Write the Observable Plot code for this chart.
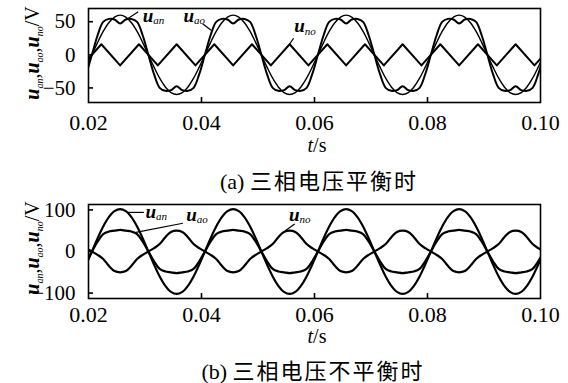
<!DOCTYPE html>
<html><head><meta charset="utf-8">
<script src="https://cdn.jsdelivr.net/npm/d3@7"></script>
<script src="https://cdn.jsdelivr.net/npm/@observablehq/plot@0.6"></script>
<style>
html,body{margin:0;padding:0;background:#fff;}
#wrap{position:relative;width:568px;height:383px;overflow:hidden;background:#fff;color:#000;font-family:"Liberation Serif",serif;}
#wrap svg text{font-family:"Liberation Serif",serif;}
.abs{position:absolute;white-space:nowrap;line-height:1;transform:translate(-50%,-50%);}
.ylab{transform:translate(-50%,-50%) rotate(-90deg);font-size:20px;}
.ylab b{font-style:italic;}
.sb{font-size:10px;font-style:italic;position:relative;top:4px;}
.ts{font-size:20px;}
.cap{font-size:22px;}
.cap .cjk{font-family:"Noto Sans CJK SC",sans-serif;letter-spacing:2px;}
.panel{position:absolute;left:0;}
</style>
</head><body><div id="wrap"></div>
<script>
// time axis (s)
const time = [
0.0196,0.0206,0.0216,0.0226,0.0236,0.0246,0.0256,0.0266,0.0276,0.0286,
0.0296,0.0306,0.0316,0.0326,0.0336,0.0346,0.0356,0.0366,0.0376,0.0386,
0.0396,0.0406,0.0416,0.0426,0.0436,0.0446,0.0456,0.0466,0.0476,0.0486,
0.0496,0.0506,0.0516,0.0526,0.0536,0.0546,0.0556,0.0566,0.0576,0.0586,
0.0596,0.0606,0.0616,0.0626,0.0636,0.0646,0.0656,0.0666,0.0676,0.0686,
0.0696,0.0706,0.0716,0.0726,0.0736,0.0746,0.0756,0.0766,0.0776,0.0786,
0.0796,0.0806,0.0816,0.0826,0.0836,0.0846,0.0856,0.0866,0.0876,0.0886,
0.0896,0.0906,0.0916,0.0926,0.0936,0.0946,0.0956,0.0966,0.0976,0.0986,
0.0996,0.1006];

// (a) balanced: u_an (V)
const uanA = [-18.5,
0,18.5,35.3,48.5,57.1,60,57.1,48.5,35.3,18.5,0,-18.5,-35.3,-48.5,-57.1,-60,-57.1,-48.5,-35.3,-18.5,
0,18.5,35.3,48.5,57.1,60,57.1,48.5,35.3,18.5,0,-18.5,-35.3,-48.5,-57.1,-60,-57.1,-48.5,-35.3,-18.5,
0,18.5,35.3,48.5,57.1,60,57.1,48.5,35.3,18.5,0,-18.5,-35.3,-48.5,-57.1,-60,-57.1,-48.5,-35.3,-18.5,
0,18.5,35.3,48.5,57.1,60,57.1,48.5,35.3,18.5,0,-18.5,-35.3,-48.5,-57.1,-60,-57.1,-48.5,-35.3,-18.5,
0];
// (a) balanced: u_ao (saddle wave)
const uaoA = [-29.2,
0,29.2,49.8,54.3,53.4,47.3,53.4,54.3,49.8,29.2,0,-29.2,-49.8,-54.3,-53.4,-47.3,-53.4,-54.3,-49.8,-29.2,
0,29.2,49.8,54.3,53.4,47.3,53.4,54.3,49.8,29.2,0,-29.2,-49.8,-54.3,-53.4,-47.3,-53.4,-54.3,-49.8,-29.2,
0,29.2,49.8,54.3,53.4,47.3,53.4,54.3,49.8,29.2,0,-29.2,-49.8,-54.3,-53.4,-47.3,-53.4,-54.3,-49.8,-29.2,
0,29.2,49.8,54.3,53.4,47.3,53.4,54.3,49.8,29.2,0,-29.2,-49.8,-54.3,-53.4,-47.3,-53.4,-54.3,-49.8,-29.2,
0];
// (a) balanced: u_no (triangle vertices)
const unoTimeA = [0.01893,0.02227,0.02560,0.02893,0.03227,0.03560,0.03893,0.04227,0.04560,0.04893,
0.05227,0.05560,0.05893,0.06227,0.06560,0.06893,0.07227,0.07560,0.07893,0.08227,
0.08560,0.08893,0.09227,0.09560,0.09893,0.10227];
const unoA = [-16,16,-16,16,-16,16,-16,16,-16,16,-16,16,-16,16,-16,16,-16,16,-16,16,-16,16,-16,16,-16,16];

// (b) unbalanced
const uanB = [-31.5,
0,31.5,60,82.5,97,102,97,82.5,60,31.5,0,-31.5,-60,-82.5,-97,-102,-97,-82.5,-60,-31.5,
0,31.5,60,82.5,97,102,97,82.5,60,31.5,0,-31.5,-60,-82.5,-97,-102,-97,-82.5,-60,-31.5,
0,31.5,60,82.5,97,102,97,82.5,60,31.5,0,-31.5,-60,-82.5,-97,-102,-97,-82.5,-60,-31.5,
0,31.5,60,82.5,97,102,97,82.5,60,31.5,0,-31.5,-60,-82.5,-97,-102,-97,-82.5,-60,-31.5,
0];
const uaoB = [-23.5,
0,23.5,42,48,50,52,50,48,42,23.5,0,-23.5,-42,-48,-50,-52,-50,-48,-42,-23.5,
0,23.5,42,48,50,52,50,48,42,23.5,0,-23.5,-42,-48,-50,-52,-50,-48,-42,-23.5,
0,23.5,42,48,50,52,50,48,42,23.5,0,-23.5,-42,-48,-50,-52,-50,-48,-42,-23.5,
0,23.5,42,48,50,52,50,48,42,23.5,0,-23.5,-42,-48,-50,-52,-50,-48,-42,-23.5,
0];
const unoB = [8,
0,-8,-18,-34.5,-47,-50,-47,-34.5,-18,-8,0,8,18,34.5,47,50,47,34.5,18,8,
0,-8,-18,-34.5,-47,-50,-47,-34.5,-18,-8,0,8,18,34.5,47,50,47,34.5,18,8,
0,-8,-18,-34.5,-47,-50,-47,-34.5,-18,-8,0,8,18,34.5,47,50,47,34.5,18,8,
0,-8,-18,-34.5,-47,-50,-47,-34.5,-18,-8,0,8,18,34.5,47,50,47,34.5,18,8,
0];

// ticks
const xTicks = [0.02, 0.04, 0.06, 0.08, 0.10];
const yTicksA = [-50, 0, 50];
const yTicksB = [-100, 0, 100];

// curve annotations (label anchor and leader line, data units)
const annSub = ["an", "ao", "no"];
const annA_labelT = [0.0296, 0.0368, 0.0564];
const annA_labelV = [59, 59, 43];
const annA_fromT = [0.0288, 0.0402, 0.0563];
const annA_fromV = [65, 47, 25];
const annA_toT = [0.0270, 0.0417, 0.0553];
const annA_toV = [55, 37, 13];
const annB_labelT = [0.0301, 0.0373, 0.0555];
const annB_labelV = [96, 89, 89];
const annB_fromT = [0.0268, 0.0367, 0.0565];
const annB_fromV = [94, 68, 66];
const annB_toT = [0.0298, 0.0284, 0.0548];
const annB_toV = [94, 46, 50];

const rows = (ts, vs) => ts.map((t, i) => ({t, v: vs[i]}));
const annRows = (lt, lv, ft, fv, tt, tv) => annSub.map((s, i) => ({sub: s, lt: lt[i], lv: lv[i], ft: ft[i], fv: fv[i], tt: tt[i], tv: tv[i]}));
const fmtY = d => d < 0 ? "\u2212" + Math.abs(d) : String(d);
const fmtX = d3.format(".2f");
const SERIF = "Liberation Serif";

function panel({series, yDomain, yTicks, anns, tickPadX}) {
  const W = 568, H = 135, mL = 88, mR = 28, mT = 8, mB = 33;
  const fw = W - mL - mR, fh = H - mT - mB;
  return Plot.plot({
    width: W, height: H,
    marginLeft: mL, marginRight: mR, marginTop: mT, marginBottom: mB,
    x: {domain: [0.02, 0.10]},
    y: {domain: yDomain},
    style: {fontFamily: SERIF, fontSize: "21px", color: "#000", background: "transparent"},
    marks: [
      ...series.map(s => Plot.line(s.data, {x: "t", y: "v", curve: s.curve, stroke: "#000", strokeWidth: s.w, clip: true})),
      Plot.frame({stroke: "#000", strokeWidth: 1.6}),
      Plot.tickX(xTicks.slice(1, -1), {x: d => d, insetTop: fh - 5, stroke: "#000", strokeWidth: 1.6}),
      Plot.tickY(yTicks, {y: d => d, insetRight: fw - 5, stroke: "#000", strokeWidth: 1.6}),
      Plot.axisX({ticks: xTicks, tickSize: 0, tickPadding: tickPadX, tickFormat: fmtX, fontSize: 22, fontFamily: SERIF, label: null}),
      Plot.axisY({ticks: yTicks, tickSize: 0, tickPadding: 13, tickFormat: fmtY, fontSize: 21, fontFamily: SERIF, label: null}),
      Plot.link(anns, {x1: "ft", y1: "fv", x2: "tt", y2: "tv", stroke: "#000", strokeWidth: 1.2}),
      Plot.text(anns, {x: "lt", y: "lv", text: () => "u", textAnchor: "start", fontSize: 19, fontFamily: SERIF, fontWeight: "bold", fontStyle: "italic", fill: "#000"}),
      Plot.text(anns, {x: "lt", y: "lv", text: "sub", dx: 10.5, dy: 5, textAnchor: "start", fontSize: 11, fontFamily: SERIF, fontStyle: "italic", fill: "#000"})
    ]
  });
}

const wrap = document.getElementById("wrap");

const plotA = panel({
  series: [
    {data: rows(time, uanA), curve: "catmull-rom", w: 1.4},
    {data: rows(time, uaoA), curve: "catmull-rom", w: 2},
    {data: rows(unoTimeA, unoA), curve: "linear", w: 2}
  ],
  yDomain: [-72, 70], yTicks: yTicksA,
  anns: annRows(annA_labelT, annA_labelV, annA_fromT, annA_fromV, annA_toT, annA_toV),
  tickPadX: 12
});
const plotB = panel({
  series: [
    {data: rows(time, uanB), curve: "catmull-rom", w: 2.2},
    {data: rows(time, uaoB), curve: "catmull-rom", w: 2.2},
    {data: rows(time, unoB), curve: "catmull-rom", w: 2.2}
  ],
  yDomain: [-113, 113], yTicks: yTicksB,
  anns: annRows(annB_labelT, annB_labelV, annB_fromT, annB_fromV, annB_toT, annB_toV),
  tickPadX: 8
});

const dA = document.createElement("div"); dA.className = "panel"; dA.style.top = "0px"; dA.appendChild(plotA); wrap.appendChild(dA);
const dB = document.createElement("div"); dB.className = "panel"; dB.style.top = "195.5px"; dB.appendChild(plotB); wrap.appendChild(dB);

const ylabHTML = '<b>u</b><span class="sb">an</span>,<b>u</b><span class="sb">ao</span>,<b>u</b><span class="sb">no</span>/V';
function addText(cls, html, x, y) {
  const e = document.createElement("div");
  e.className = "abs " + cls;
  e.style.left = x + "px"; e.style.top = y + "px";
  e.innerHTML = html;
  wrap.appendChild(e);
}
addText("ylab", ylabHTML, 32, 53);
addText("ylab", ylabHTML, 32, 248);
addText("ts", "<i>t</i>/s", 317, 145);
addText("ts", "<i>t</i>/s", 317, 336);
addText("cap", '(a) <span class="cjk">三相电压平衡时</span>', 319, 180);
addText("cap", '(b) <span class="cjk">三相电压不平衡时</span>', 313, 370);
</script>
</body></html>
